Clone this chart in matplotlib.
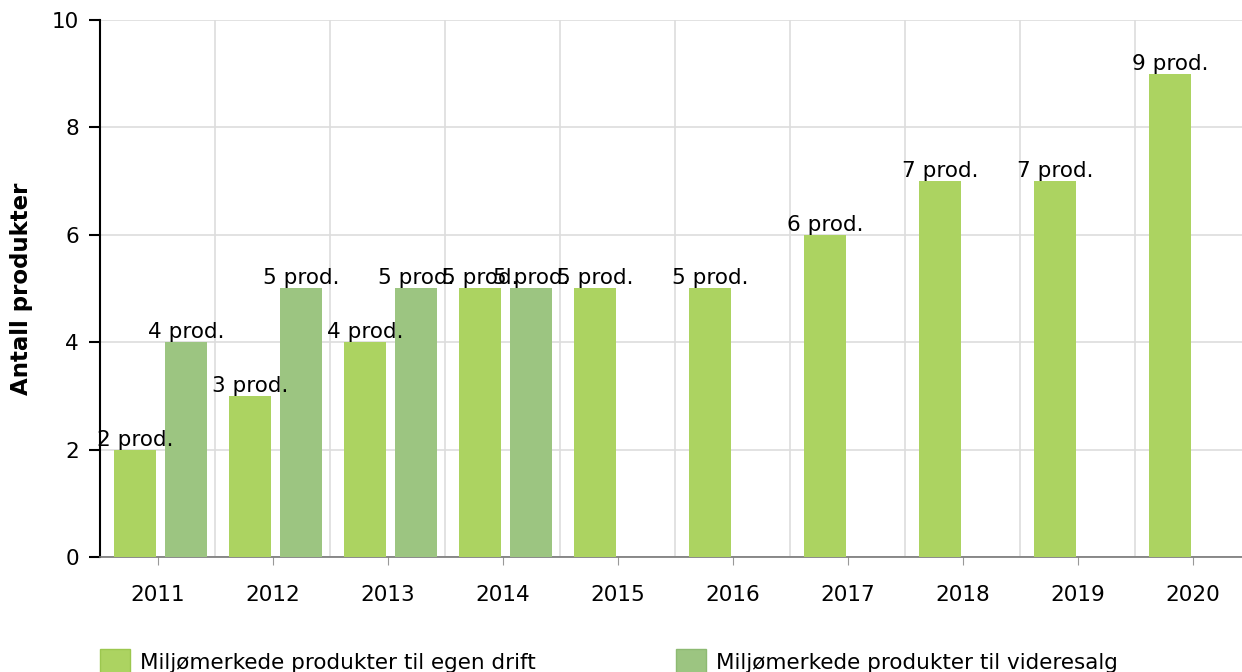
import numpy as np
import matplotlib.pyplot as plt

# Data
aar = ["2011", "2012", "2013", "2014", "2015", "2016", "2017", "2018", "2019", "2020"]
egen_drift = [2, 3, 4, 5, 5, 5, 6, 7, 7, 9]
videresalg = [4, 5, 5, 5]  # only 2011-2014
navn_egen = "Miljømerkede produkter til egen drift"
navn_videre = "Miljømerkede produkter til videresalg"

farge_egen = "#acd361"
farge_videre = "#9cc581"
fs = 15.5

plt.rcParams['font.family'] = ['DejaVu Sans']

fig = plt.figure(figsize=(12.42, 6.72), dpi=100)
ax = fig.add_axes([100/1242, 115/672, 1150/1242, 537/672])

x = np.arange(len(aar))
bredde = 0.365

# Bars
b1 = ax.bar(x - 0.196, egen_drift, width=bredde, color=farge_egen, zorder=3,
            label=navn_egen)
x2 = np.arange(len(videresalg))
b2 = ax.bar(x2 + 0.248, videresalg, width=bredde, color=farge_videre, zorder=3,
            label=navn_videre)

# Value labels
for xi, v in zip(x - 0.196, egen_drift):
    ax.text(xi, v, f"{v} prod.", ha="center", va="bottom", fontsize=fs, zorder=4)
for xi, v in zip(x2 + 0.248, videresalg):
    ax.text(xi, v, f"{v} prod.", ha="center", va="bottom", fontsize=fs, zorder=4)

# Axes
ax.set_xlim(-0.5, len(aar) - 0.5)
ax.set_ylim(0, 10)
ax.set_yticks(range(0, 11, 2))
ax.set_xticks(x)
ax.set_xticklabels(aar)
ax.set_xticks(np.arange(-0.5, len(aar)), minor=True)
ax.tick_params(axis="x", which="major", length=6, color="#999999", labelsize=fs, pad=14)
ax.tick_params(axis="x", which="minor", length=0)
ax.tick_params(axis="y", length=8, width=1.5, labelsize=fs, pad=7)

ax.grid(axis="y", color="#dddddd", linewidth=1.2, zorder=0)
ax.grid(axis="x", which="minor", color="#dddddd", linewidth=1.2, zorder=0)
ax.grid(axis="x", which="major", visible=False)

ax.spines["top"].set_visible(False)
ax.spines["right"].set_visible(False)
ax.spines["left"].set_linewidth(1.5)
ax.spines["bottom"].set_color("#777777")
ax.spines["bottom"].set_linewidth(1.2)

ax.set_ylabel("Antall produkter", fontsize=16.5, fontweight="bold")
ax.yaxis.set_label_coords(-67/1150, 0.5)

# Legend
leg = fig.legend(handles=[b1, b2], loc="lower left", bbox_to_anchor=(91/1242, -0.015),
                 ncol=2, frameon=False, fontsize=fs, handlelength=1.4, handleheight=1.35,
                 handletextpad=0.47, columnspacing=6.5, borderaxespad=0)
for h, c in zip(leg.legend_handles, ["#9cc74f", "#8dba72"]):
    h.set_edgecolor(c)
    h.set_linewidth(1)

fig.savefig("out.png", dpi=100)
